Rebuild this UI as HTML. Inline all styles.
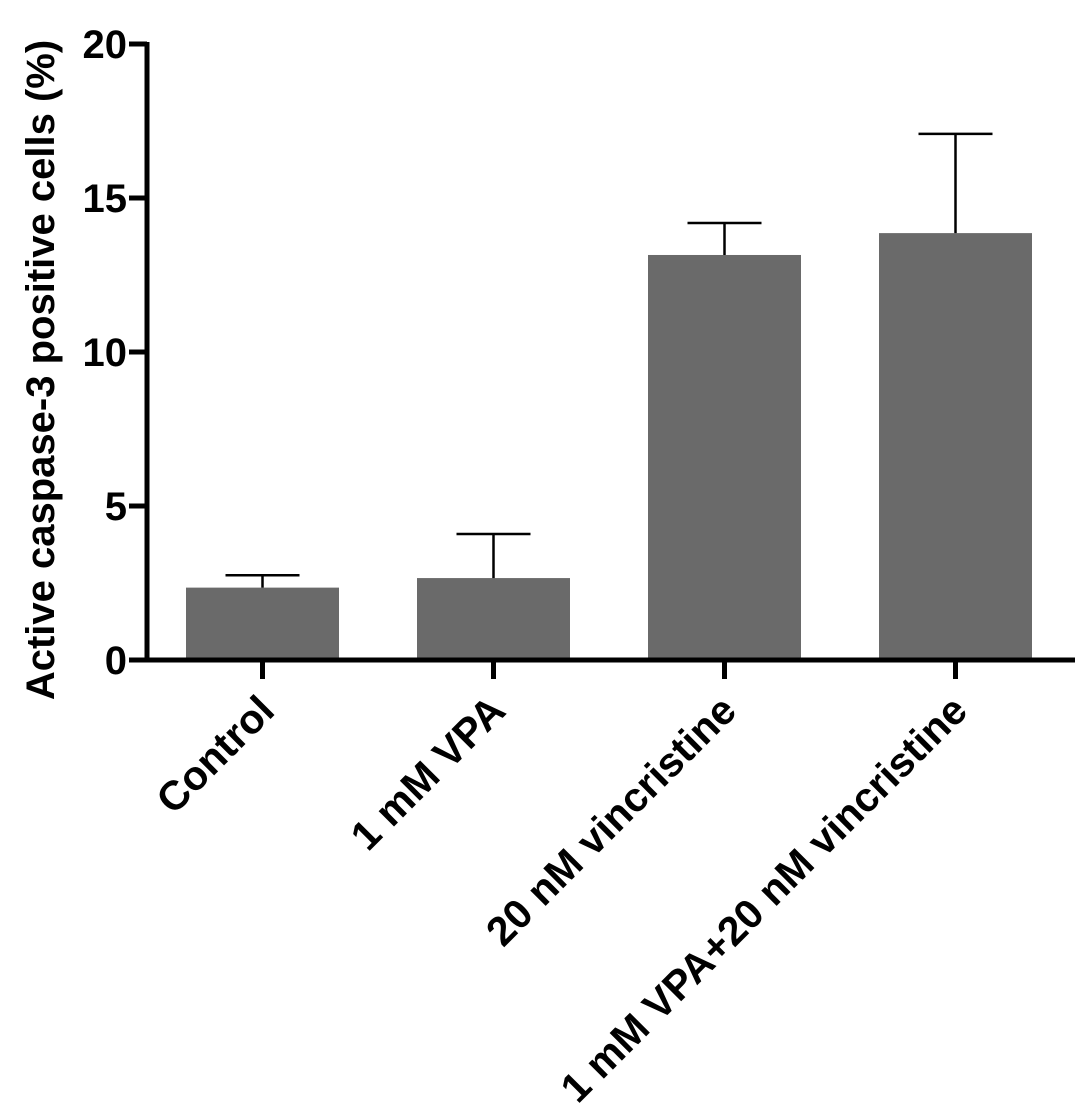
<!DOCTYPE html>
<html><head><meta charset="utf-8"><style>
html,body{margin:0;padding:0;background:#fff;}
svg{display:block;font-family:"Liberation Sans",Arial,sans-serif;font-weight:bold;}
</style></head><body>
<svg id="chart" width="1087" height="1114" viewBox="0 0 1087 1114">
<g id="g"></g>
</svg>
<script>
const categories = ["Control","1 mM VPA","20 nM vincristine","1 mM VPA+20 nM vincristine"];
const means = [2.35, 2.66, 13.15, 13.86];
const errors = [0.4, 1.43, 1.04, 3.22];
const yTicks = [0,5,10,15,20];

const NS="http://www.w3.org/2000/svg";
const g=document.getElementById('g');
const x0=147, x1=1075, yTop=44, yBot=660, yMax=20;
const y=v=>yBot-(v/yMax)*(yBot-yTop);
const step=231, first=262.5, bw=153;
const xc=i=>first+i*step;
function el(t,a){const e=document.createElementNS(NS,t);for(const k in a)e.setAttribute(k,a[k]);g.appendChild(e);return e;}

categories.forEach((c,i)=>{
  const b=el('rect',{x:xc(i)-bw/2,y:y(means[i]),width:bw,height:yBot-y(means[i]),fill:'#6a6a6a'});
  
  
  const e=el('path',{d:`M${xc(i)} ${y(means[i])}V${y(means[i]+errors[i])}M${xc(i)-37} ${y(means[i]+errors[i])}H${xc(i)+37}`,stroke:'#000','stroke-width':2.5,fill:'none'});
  
  
  const t=el('line',{x1:xc(i),x2:xc(i),y1:yBot,y2:yBot+19,stroke:'#000','stroke-width':5});
  
  
  const lx=xc(i)+14, ly=yBot+53;
  const l=el('text',{x:lx,y:ly,'text-anchor':'end','font-size':41,transform:`rotate(-45 ${lx} ${ly})`});
  l.textContent=c;
  
  
});
yTicks.forEach(v=>{
  const t=el('line',{x1:x0-18,x2:x0,y1:y(v),y2:y(v),stroke:'#000','stroke-width':5});
  
  
  const l=el('text',{x:x0-20,y:y(v)+14,'text-anchor':'end','font-size':40});
  l.textContent=v;
  
  
});
const ax=el('path',{d:`M${x0} ${yTop-2}V${yBot}H${x1}`,stroke:'#000','stroke-width':5,fill:'none'});


const yt=el('text',{x:54,y:370,'text-anchor':'middle','font-size':40,transform:'rotate(-90 54 370)'});
yt.textContent='Active caspase-3 positive cells (%)';


</script>
</body></html>
